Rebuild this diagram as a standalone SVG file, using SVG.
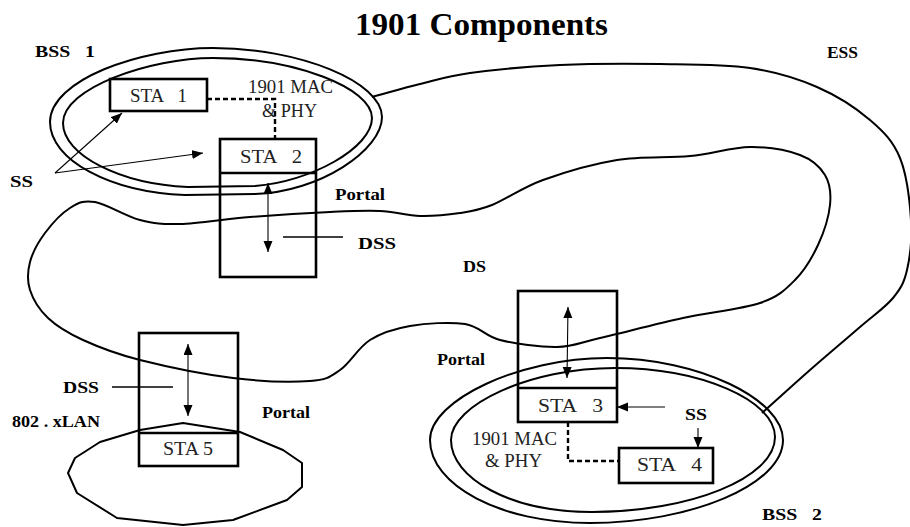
<svg xmlns="http://www.w3.org/2000/svg" width="910" height="527" viewBox="0 0 910 527">
<style>
.bg{fill:#fff}
.curve{fill:none;stroke:#000;stroke-width:2;stroke-linejoin:round}
.box{fill:none;stroke:#000;stroke-width:2.6}
.dash{fill:none;stroke:#000;stroke-width:2.4;stroke-dasharray:5,3}
.arr{fill:none;stroke:#000;stroke-width:1.1}
.lead{fill:none;stroke:#000;stroke-width:1.3}
.lbl{font-family:"Liberation Serif","Times New Roman",serif;font-weight:bold;font-size:17px;fill:#000}
.sta{font-family:"Liberation Serif","Times New Roman",serif;font-size:18px;fill:#222}
.title{font-family:"Liberation Serif","Times New Roman",serif;font-weight:bold;font-size:32px;fill:#000}
</style>
<defs>
<marker id="ah" markerUnits="userSpaceOnUse" markerWidth="12" markerHeight="10" refX="11" refY="4.5" orient="auto-start-reverse">
<path d="M0,0 L11,4.5 L0,9 Z" fill="#000"/>
</marker>
</defs>
<rect class="bg" x="0" y="0" width="910" height="527"/>
<text class="title" x="355" y="35" textLength="253" lengthAdjust="spacingAndGlyphs">1901 Components</text>

<g id="ess">
<path class="curve" d="M372,97 C388,92.7 403.7,88 420,84 S446.7,76.2 470,73 S528.3,66.5 560,65 S628.3,63.5 660,64 S723.8,64.2 750,68 S797,78.3 817,87 S856.2,108.2 870,120 S893.2,141.3 900,158 S909.8,201.3 911,220 S910,257 907,270 S900.8,288.5 893,298 S873.8,315 860,327 S826.3,355.7 810,370 S778,398.7 762,413"/>
<text class="lbl" x="827" y="58" textLength="31" lengthAdjust="spacingAndGlyphs">ESS</text>
</g>

<g id="ds">
<path class="curve" d="M30,262 C32.5,252.5 38.3,242 45,233 S61.7,213.2 70,208 S83.3,200 95,202 S125.8,216.3 140,220 S161.7,224.5 180,224 S225,219 250,217 S308.3,213 330,212 S365,210.3 380,211 S406.7,215.7 420,216 S448,214.8 460,213 S478.2,210.5 492,205 S522.2,187.5 543,180 S592.5,164 617,160 S667.8,158.2 690,156 S731.7,147.2 750,147 S787.5,150.3 800,155 S820,166.7 825,175 S831.2,193.3 830,205 S823.8,232.5 818,245 S804.7,270.3 795,280 S778.7,296.7 760,303 S709.7,312.2 683,318 S621,333.2 600,338 S573.7,346.7 557,347 S515.3,343.8 500,340 S480,326.3 465,324 S425.8,323.3 410,326 S381.7,332.7 370,340 S350,363.2 340,370 S327.8,379.7 310,381 S261.3,381.5 233,378 S165,366.3 140,360 S98.3,347 83,340 S56.8,326.3 48,318 S33,299.3 30,290 S27.5,271.5 30,262 Z"/>
<text class="lbl" x="463" y="272" textLength="23" lengthAdjust="spacingAndGlyphs">DS</text>
</g>

<g id="bss1">
<path class="curve" d="M50,122 C50,80 140,48 213,48 C300,48 382,82 382,117 C382,150 320,192 255,194 L185,195 C110,192 50,160 50,122 Z"/>
<path class="curve" d="M63,123 C63,88 150,58 213,58 C295,58 372,88 372,118 C372,148 310,182 255,186 L188,187 C120,184 63,155 63,123 Z"/>
<text class="lbl" x="35" y="57" textLength="60" lengthAdjust="spacingAndGlyphs" xml:space="preserve">BSS   1</text>
<text class="sta" x="248" y="93" textLength="85" lengthAdjust="spacingAndGlyphs">1901 MAC</text>
<text class="sta" x="262" y="117" textLength="55" lengthAdjust="spacingAndGlyphs">&amp; PHY</text>
</g>

<g id="bss2">
<path class="curve" d="M430,440 C430,400 520,358 607,358 C700,358 783,400 783,440 C783,485 690,523 590,523 C500,523 430,485 430,440 Z"/>
<path class="curve" d="M451,440 C451,405 530,368 615,368 C700,368 775,400 775,437 C775,478 690,512 592,512 C510,512 451,478 451,440 Z"/>
<text class="lbl" x="762" y="520" textLength="60" lengthAdjust="spacingAndGlyphs" xml:space="preserve">BSS   2</text>
<text class="sta" x="472" y="445" textLength="85" lengthAdjust="spacingAndGlyphs">1901 MAC</text>
<text class="sta" x="485" y="467" textLength="57" lengthAdjust="spacingAndGlyphs">&amp; PHY</text>
</g>

<g id="lan">
<path class="curve" d="M68,473 L75,458 L100,442 L140,430 L183,423 L240,432 L283,450 L302,463 L302,487 L287,500 L233,520 L183,525 L117,518 L77,493 Z"/>
<text class="lbl" x="12" y="427" textLength="88" lengthAdjust="spacingAndGlyphs">802 . xLAN</text>
</g>

<g id="sta1">
<rect class="box" x="110" y="79" width="97" height="32"/>
<text class="sta" x="130" y="102" textLength="57" lengthAdjust="spacingAndGlyphs" xml:space="preserve">STA   1</text>
</g>

<g id="sta2">
<rect class="box" x="220" y="139" width="96" height="138"/>
<line class="box" x1="220" y1="173" x2="316" y2="173"/>
<text class="sta" x="240" y="163" textLength="62" lengthAdjust="spacingAndGlyphs" xml:space="preserve">STA   2</text>
<text class="lbl" x="335" y="200" textLength="50" lengthAdjust="spacingAndGlyphs">Portal</text>
<text class="lbl" x="358" y="249" textLength="38" lengthAdjust="spacingAndGlyphs">DSS</text>
</g>

<g id="sta3">
<rect class="box" x="518" y="291" width="99" height="131"/>
<line class="box" x1="518" y1="388" x2="617" y2="388"/>
<text class="sta" x="538" y="412" textLength="65" lengthAdjust="spacingAndGlyphs" xml:space="preserve">STA   3</text>
<text class="lbl" x="437" y="365" textLength="48" lengthAdjust="spacingAndGlyphs">Portal</text>
</g>

<g id="sta4">
<rect class="box" x="619" y="448" width="94" height="35"/>
<text class="sta" x="637" y="471" textLength="65" lengthAdjust="spacingAndGlyphs" xml:space="preserve">STA   4</text>
</g>

<g id="sta5">
<rect class="box" x="139" y="333" width="99" height="133"/>
<line class="box" x1="139" y1="433" x2="238" y2="433"/>
<text class="sta" x="163" y="455" textLength="50" lengthAdjust="spacingAndGlyphs">STA 5</text>
<text class="lbl" x="262" y="418" textLength="48" lengthAdjust="spacingAndGlyphs">Portal</text>
<text class="lbl" x="63" y="393" textLength="36" lengthAdjust="spacingAndGlyphs">DSS</text>
</g>

<g id="ss-labels">
<text class="lbl" x="10" y="187" textLength="23" lengthAdjust="spacingAndGlyphs">SS</text>
<text class="lbl" x="685" y="420" textLength="22" lengthAdjust="spacingAndGlyphs">SS</text>
</g>

<g id="connectors">
<path class="dash" d="M207,99 H275 V139"/>
<path class="dash" d="M568,422 V461 H619"/>
<line class="arr" x1="55" y1="173" x2="122" y2="113" marker-end="url(#ah)"/>
<line class="arr" x1="55" y1="173" x2="203" y2="153" marker-end="url(#ah)"/>
<line class="arr" x1="268" y1="183" x2="268" y2="252" marker-start="url(#ah)" marker-end="url(#ah)"/>
<line class="lead" x1="283" y1="237" x2="343" y2="237"/>
<line class="arr" x1="568" y1="307" x2="567" y2="378" marker-start="url(#ah)" marker-end="url(#ah)"/>
<line class="arr" x1="665" y1="407" x2="617" y2="407" marker-end="url(#ah)"/>
<line class="arr" x1="698" y1="428" x2="698" y2="448" marker-end="url(#ah)"/>
<line class="arr" x1="188" y1="344" x2="188" y2="416" marker-start="url(#ah)" marker-end="url(#ah)"/>
<line class="lead" x1="112" y1="387" x2="173" y2="387"/>
</g>
</svg>
